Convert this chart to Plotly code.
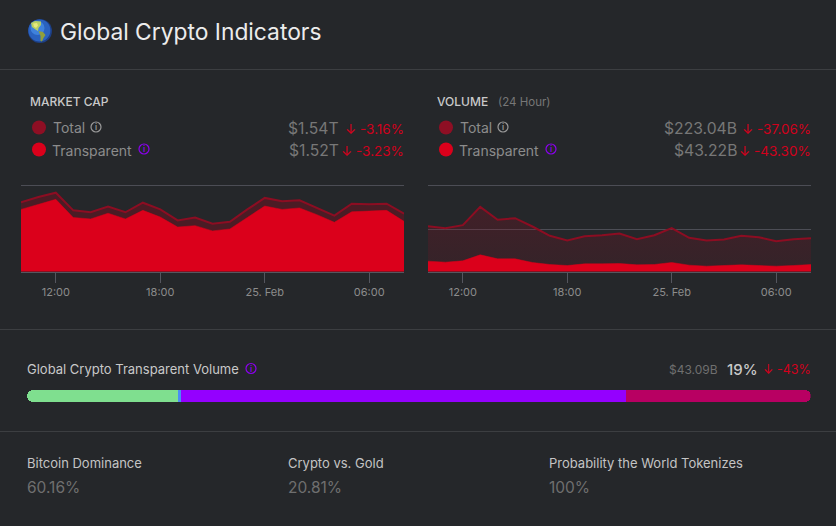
import pandas as pd
import plotly.graph_objects as go

W, H = 836, 526
BG = "#25272a"
RED = "#db001b"
DARK_RED = "#8c0d22"
PURPLE = "#8b00ee"
GREY = "#8c8c8c"
DOWN = "#d2001c"
FONT = "Inter"

hours = pd.date_range("2021-02-24 10:00", "2021-02-25 08:00", freq="h")
tick_dates = ["2021-02-24 12:00", "2021-02-24 18:00", "2021-02-25 00:00", "2021-02-25 06:00"]
tick_labels = ["12:00", "18:00", "25. Feb", "06:00"]

# market cap, $T
cap_total = [1.565, 1.576, 1.585, 1.548, 1.544, 1.556, 1.544, 1.564, 1.550, 1.527, 1.533, 1.520,
             1.524, 1.550, 1.574, 1.567, 1.569, 1.553, 1.537, 1.562, 1.561, 1.562, 1.541]
cap_transparent = [1.550, 1.560, 1.571, 1.533, 1.530, 1.542, 1.530, 1.548, 1.534, 1.513, 1.516, 1.505,
                   1.509, 1.533, 1.557, 1.550, 1.553, 1.539, 1.523, 1.545, 1.546, 1.548, 1.525]

# volume, $B
vol_total = [270.7, 259.4, 276.3, 379.7, 306.4, 315.8, 268.8, 216.2, 189.8, 214.3, 219.9, 229.3,
             197.4, 219.9, 259.4, 204.9, 189.8, 195.5, 216.2, 208.6, 186.1, 197.4, 203.0]
vol_transparent = [73.3, 67.6, 75.2, 109.0, 86.4, 86.4, 65.8, 54.5, 48.8, 58.2, 58.2, 60.1,
                   52.6, 54.5, 65.8, 50.7, 45.1, 47.0, 52.6, 48.8, 45.1, 48.8, 54.5]

# share of transparent volume, %
share_names = ["Green", "Blue", "Purple", "Crimson"]
share_values = [19.3, 0.4, 56.8, 23.5]
share_colors = ["#7fdf8f", "#4a8cf5", "#9400ff", "#b80062"]
CAP = 1.0  # little negative piece, gives the bar its round left end


def px(x):
    return x / W


def py(y):
    return 1 - y / H


fig = go.Figure()

# left chart
fig.add_trace(go.Scatter(x=hours, y=cap_total, mode="lines", name="Total", xaxis="x", yaxis="y",
                         line=dict(color=DARK_RED, width=2), fill="tozeroy", fillcolor="#4b1c25"))
fig.add_trace(go.Scatter(x=hours, y=cap_transparent, mode="lines", name="Transparent", xaxis="x", yaxis="y",
                         line=dict(color=RED, width=0.5), fill="tozeroy", fillcolor=RED))

# right chart
fig.add_trace(go.Scatter(x=hours, y=vol_total, mode="lines", name="Total", xaxis="x2", yaxis="y2",
                         line=dict(color=DARK_RED, width=2), fill="tozeroy",
                         fillgradient=dict(type="vertical", colorscale=[[0, "rgba(140,13,34,0.14)"],
                                                                        [1, "rgba(140,13,34,0.28)"]])))
fig.add_trace(go.Scatter(x=hours, y=vol_transparent, mode="lines", name="Transparent", xaxis="x2", yaxis="y2",
                         line=dict(color=RED, width=0.5), fill="tozeroy", fillcolor=RED))

# stacked bar
fig.add_trace(go.Bar(x=[-CAP], y=[0], orientation="h", marker=dict(color=share_colors[0], line_width=0),
                     xaxis="x3", yaxis="y3", showlegend=False))
fig.add_trace(go.Bar(x=[share_values[0] - CAP], y=[0], orientation="h", name=share_names[0],
                     marker=dict(color=share_colors[0], line_width=0), xaxis="x3", yaxis="y3"))
for name, val, col in zip(share_names[1:], share_values[1:], share_colors[1:]):
    fig.add_trace(go.Bar(x=[val], y=[0], orientation="h", name=name,
                         marker=dict(color=col, line_width=0), xaxis="x3", yaxis="y3"))

time_axis = dict(type="date", range=[hours[0], hours[-1]], tickmode="array", tickvals=tick_dates,
                 ticktext=tick_labels, ticks="outside", ticklen=10, tickwidth=1, tickcolor="#55565f",
                 showgrid=False, zeroline=False, showline=True, linecolor="#55565f", linewidth=1,
                 tickfont=dict(family=FONT, size=11, color=GREY))
value_axis = dict(showticklabels=False, ticks="", zeroline=False, showline=False, gridcolor="#4c4d55", gridwidth=1)

fig.update_layout(
    width=W, height=H, showlegend=False,
    paper_bgcolor=BG, plot_bgcolor=BG,
    margin=dict(l=0, r=0, t=0, b=0),
    barmode="relative", bargap=0, barcornerradius=6,
    font=dict(family=FONT, color=GREY),
    xaxis=dict(time_axis, domain=[px(21), px(404)], anchor="y"),
    # plotly drops a gridline within 1px of the axis end, so the ranges run a little past the top one
    yaxis=dict(value_axis, domain=[py(271.5), py(182.5)], anchor="x", range=[1.42, 1.6063],
               tickmode="array", tickvals=[1.6]),
    xaxis2=dict(time_axis, domain=[px(428), px(811)], anchor="y2"),
    yaxis2=dict(value_axis, domain=[py(271.5), py(182.5)], anchor="x2", range=[15, 517],
                tickmode="array", tickvals=[250, 500]),
    xaxis3=dict(domain=[px(27), px(810.5)], anchor="y3", range=[-CAP, 100 - CAP], visible=False),
    yaxis3=dict(domain=[py(402), py(390)], anchor="x3", range=[-0.5, 0.5], visible=False),
)


def label(x, y, text, size, color, anchor="left", weight=400):
    fig.add_annotation(x=px(x), y=py(y), xref="paper", yref="paper", text=text, showarrow=False,
                       xanchor=anchor, yanchor="middle", borderpad=0, borderwidth=0,
                       font=dict(family=FONT, size=size, color=color, weight=weight))


def dot(x, y, r, fill, line=None):
    fig.add_shape(type="circle", xref="paper", yref="paper", x0=px(x - r), x1=px(x + r),
                  y0=py(y + r), y1=py(y - r), fillcolor=fill,
                  line=dict(color=line or fill, width=1.2 if line else 0))


def info(x, y, color):
    dot(x, y, 5, "rgba(0,0,0,0)", color)
    label(x, y, "i", 8, color, "center", 600)


def blob(points, color):
    d = "M " + " L ".join(f"{px(a):.5f},{py(b):.5f}" for a, b in points) + " Z"
    fig.add_shape(type="path", xref="paper", yref="paper", path=d, fillcolor=color, line_width=0)


# separators
for y in [69.5, 329.5, 431.5]:
    fig.add_shape(type="line", xref="paper", yref="paper", x0=0, x1=1, y0=py(y), y1=py(y),
                  line=dict(color="#3c3e41", width=1))

# globe in the header
dot(40, 31, 12, "#1d3f86")
dot(39.4, 30.4, 11, "#2a62bf")
dot(37.5, 28, 7, "#3f82dc")
blob([(31, 23), (35, 21), (41, 21.5), (41, 25), (38.5, 28), (38, 31), (35.5, 29.5), (32, 27)], "#b7cf62")
blob([(33, 23.5), (37, 23), (38, 25.5), (36, 28), (34, 26.5)], "#e6e87c")
blob([(38.5, 31), (43, 32), (45.5, 35), (43.5, 38), (42, 41.5), (40.5, 41), (40.5, 36)], "#8f9f3c")
label(60, 31, "Global Crypto Indicators", 22.8, "#ececec")

# market cap header
label(30, 101.5, "MARKET CAP", 12, "#c9c9c9", weight=500)
dot(39, 127.5, 7, "#8e0f24")
dot(39, 149.5, 7, RED)
label(52.5, 128, "Total", 14, GREY)
label(52, 150, "Transparent", 14, GREY)
info(96, 127, "#9a9a9a")
info(144, 149, PURPLE)
label(339, 129, "$1.54T", 15.7, "#777777", "right")
label(339, 151, "$1.52T", 15.7, "#777777", "right")
label(404, 129, "↓ -3.16%", 13.5, DOWN, "right")
label(404, 151, "↓ -3.23%", 13.5, DOWN, "right")

# volume header
label(437, 101.5, "VOLUME", 12, "#c9c9c9", weight=500)
label(498, 101.5, "(24 Hour)", 11.5, "#777777")
dot(446, 127.5, 7, "#8e0f24")
dot(446, 149.5, 7, RED)
label(459.5, 128, "Total", 14, GREY)
label(459, 150, "Transparent", 14, GREY)
info(503, 127, "#9a9a9a")
info(551, 149, PURPLE)
label(737, 129, "$223.04B", 15.7, "#777777", "right")
label(737, 151, "$43.22B", 15.7, "#777777", "right")
label(811, 129, "↓ -37.06%", 13.5, DOWN, "right")
label(811, 151, "↓ -43.30%", 13.5, DOWN, "right")

# bar header
label(27, 369, "Global Crypto Transparent Volume", 13, "#c9c9c9")
info(251, 368.5, PURPLE)
label(717.5, 369.5, "$43.09B", 12, "#6f6f6f", "right")
label(727, 369, "19%", 15, "#c9c9c9", weight=500)
label(810.5, 369.5, "↓ -43%", 12.5, DOWN, "right")

# bottom stats
stat_titles = ["Bitcoin Dominance", "Crypto vs. Gold", "Probability the World Tokenizes"]
stat_values = ["60.16%", "20.81%", "100%"]
for x, title, val in zip([27, 288, 549], stat_titles, stat_values):
    label(x, 463, title, 13, "#c4c4c4")
    label(x, 487.5, val, 15.5, "#6f6f6f")

fig.write_html("out.html", config=dict(displayModeBar=False),
               post_script="document.body.style.margin='0';document.body.style.background='%s';" % BG)
